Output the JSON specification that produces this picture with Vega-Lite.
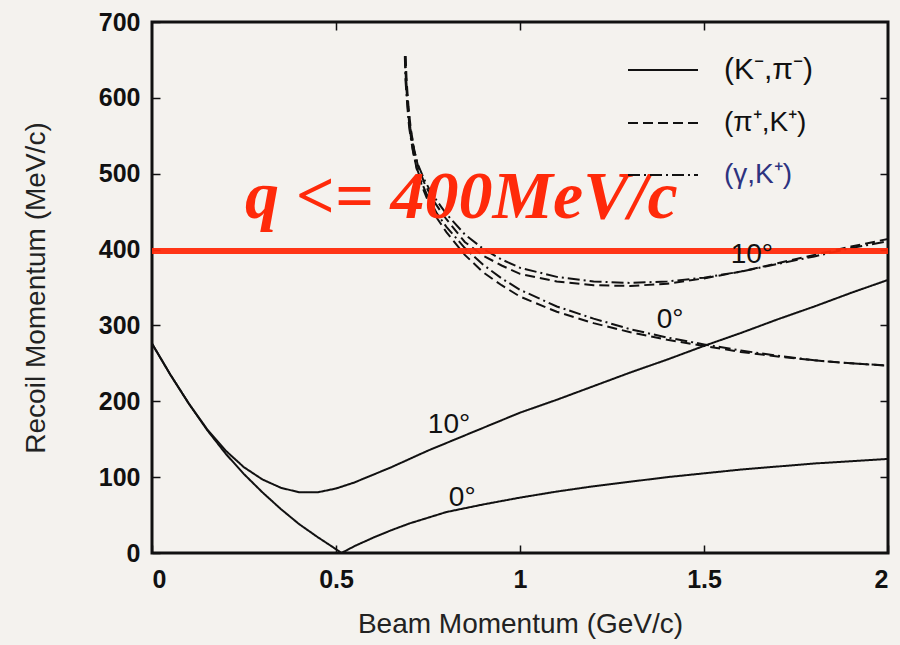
{
  "$schema": "https://vega.github.io/schema/vega-lite/v6.json",
  "autosize": {"type": "none"},
  "width": 736,
  "height": 531,
  "padding": {"left": 152, "top": 22, "right": 12, "bottom": 92},
  "background": "#f4f2ee",
  "config": {
    "view": {"stroke": "#111111", "strokeWidth": 3, "fill": "#f4f2ee"},
    "axis": {"grid": false, "domain": false, "tickColor": "#111111", "tickWidth": 1.5, "labelFont": "Liberation Sans", "labelFontWeight": "bold", "labelFontSize": 25, "labelColor": "#111111", "titleFont": "Liberation Sans", "titleFontWeight": "normal", "titleFontSize": 28, "titleColor": "#222222"}
  },
  "datasets": {
    "curves": [
      {"reaction": "(K⁻,π⁻)", "angle": "0°", "p": 0, "q": 276},
      {"reaction": "(K⁻,π⁻)", "angle": "0°", "p": 0.05, "q": 235},
      {"reaction": "(K⁻,π⁻)", "angle": "0°", "p": 0.1, "q": 197},
      {"reaction": "(K⁻,π⁻)", "angle": "0°", "p": 0.15, "q": 162},
      {"reaction": "(K⁻,π⁻)", "angle": "0°", "p": 0.2, "q": 131},
      {"reaction": "(K⁻,π⁻)", "angle": "0°", "p": 0.25, "q": 104},
      {"reaction": "(K⁻,π⁻)", "angle": "0°", "p": 0.3, "q": 80},
      {"reaction": "(K⁻,π⁻)", "angle": "0°", "p": 0.35, "q": 58},
      {"reaction": "(K⁻,π⁻)", "angle": "0°", "p": 0.4, "q": 38},
      {"reaction": "(K⁻,π⁻)", "angle": "0°", "p": 0.45, "q": 21},
      {"reaction": "(K⁻,π⁻)", "angle": "0°", "p": 0.5, "q": 5},
      {"reaction": "(K⁻,π⁻)", "angle": "0°", "p": 0.515, "q": 0},
      {"reaction": "(K⁻,π⁻)", "angle": "0°", "p": 0.55, "q": 9},
      {"reaction": "(K⁻,π⁻)", "angle": "0°", "p": 0.6, "q": 20},
      {"reaction": "(K⁻,π⁻)", "angle": "0°", "p": 0.65, "q": 30},
      {"reaction": "(K⁻,π⁻)", "angle": "0°", "p": 0.7, "q": 39},
      {"reaction": "(K⁻,π⁻)", "angle": "0°", "p": 0.8, "q": 54},
      {"reaction": "(K⁻,π⁻)", "angle": "0°", "p": 0.9, "q": 64},
      {"reaction": "(K⁻,π⁻)", "angle": "0°", "p": 1.0, "q": 73},
      {"reaction": "(K⁻,π⁻)", "angle": "0°", "p": 1.1, "q": 81},
      {"reaction": "(K⁻,π⁻)", "angle": "0°", "p": 1.2, "q": 88},
      {"reaction": "(K⁻,π⁻)", "angle": "0°", "p": 1.3, "q": 94},
      {"reaction": "(K⁻,π⁻)", "angle": "0°", "p": 1.4, "q": 100},
      {"reaction": "(K⁻,π⁻)", "angle": "0°", "p": 1.5, "q": 105},
      {"reaction": "(K⁻,π⁻)", "angle": "0°", "p": 1.6, "q": 110},
      {"reaction": "(K⁻,π⁻)", "angle": "0°", "p": 1.7, "q": 114},
      {"reaction": "(K⁻,π⁻)", "angle": "0°", "p": 1.8, "q": 118},
      {"reaction": "(K⁻,π⁻)", "angle": "0°", "p": 1.9, "q": 121},
      {"reaction": "(K⁻,π⁻)", "angle": "0°", "p": 2.0, "q": 124},

      {"reaction": "(K⁻,π⁻)", "angle": "10°", "p": 0, "q": 276},
      {"reaction": "(K⁻,π⁻)", "angle": "10°", "p": 0.05, "q": 235},
      {"reaction": "(K⁻,π⁻)", "angle": "10°", "p": 0.1, "q": 197},
      {"reaction": "(K⁻,π⁻)", "angle": "10°", "p": 0.15, "q": 163},
      {"reaction": "(K⁻,π⁻)", "angle": "10°", "p": 0.2, "q": 135},
      {"reaction": "(K⁻,π⁻)", "angle": "10°", "p": 0.25, "q": 113},
      {"reaction": "(K⁻,π⁻)", "angle": "10°", "p": 0.3, "q": 97},
      {"reaction": "(K⁻,π⁻)", "angle": "10°", "p": 0.35, "q": 86},
      {"reaction": "(K⁻,π⁻)", "angle": "10°", "p": 0.4, "q": 80},
      {"reaction": "(K⁻,π⁻)", "angle": "10°", "p": 0.45, "q": 80},
      {"reaction": "(K⁻,π⁻)", "angle": "10°", "p": 0.5, "q": 85},
      {"reaction": "(K⁻,π⁻)", "angle": "10°", "p": 0.55, "q": 93},
      {"reaction": "(K⁻,π⁻)", "angle": "10°", "p": 0.6, "q": 103},
      {"reaction": "(K⁻,π⁻)", "angle": "10°", "p": 0.65, "q": 113},
      {"reaction": "(K⁻,π⁻)", "angle": "10°", "p": 0.7, "q": 124},
      {"reaction": "(K⁻,π⁻)", "angle": "10°", "p": 0.75, "q": 135},
      {"reaction": "(K⁻,π⁻)", "angle": "10°", "p": 0.8, "q": 145},
      {"reaction": "(K⁻,π⁻)", "angle": "10°", "p": 0.9, "q": 165},
      {"reaction": "(K⁻,π⁻)", "angle": "10°", "p": 1.0, "q": 185},
      {"reaction": "(K⁻,π⁻)", "angle": "10°", "p": 1.1, "q": 202},
      {"reaction": "(K⁻,π⁻)", "angle": "10°", "p": 1.2, "q": 220},
      {"reaction": "(K⁻,π⁻)", "angle": "10°", "p": 1.3, "q": 238},
      {"reaction": "(K⁻,π⁻)", "angle": "10°", "p": 1.4, "q": 255},
      {"reaction": "(K⁻,π⁻)", "angle": "10°", "p": 1.5, "q": 273},
      {"reaction": "(K⁻,π⁻)", "angle": "10°", "p": 1.6, "q": 290},
      {"reaction": "(K⁻,π⁻)", "angle": "10°", "p": 1.7, "q": 308},
      {"reaction": "(K⁻,π⁻)", "angle": "10°", "p": 1.8, "q": 325},
      {"reaction": "(K⁻,π⁻)", "angle": "10°", "p": 1.9, "q": 343},
      {"reaction": "(K⁻,π⁻)", "angle": "10°", "p": 2.0, "q": 360},

      {"reaction": "(π⁺,K⁺)", "angle": "0°", "p": 0.688, "q": 655},
      {"reaction": "(π⁺,K⁺)", "angle": "0°", "p": 0.69, "q": 622},
      {"reaction": "(π⁺,K⁺)", "angle": "0°", "p": 0.695, "q": 588},
      {"reaction": "(π⁺,K⁺)", "angle": "0°", "p": 0.7, "q": 560},
      {"reaction": "(π⁺,K⁺)", "angle": "0°", "p": 0.71, "q": 528},
      {"reaction": "(π⁺,K⁺)", "angle": "0°", "p": 0.72, "q": 505},
      {"reaction": "(π⁺,K⁺)", "angle": "0°", "p": 0.735, "q": 482},
      {"reaction": "(π⁺,K⁺)", "angle": "0°", "p": 0.75, "q": 464},
      {"reaction": "(π⁺,K⁺)", "angle": "0°", "p": 0.775, "q": 441},
      {"reaction": "(π⁺,K⁺)", "angle": "0°", "p": 0.8, "q": 423},
      {"reaction": "(π⁺,K⁺)", "angle": "0°", "p": 0.85, "q": 393},
      {"reaction": "(π⁺,K⁺)", "angle": "0°", "p": 0.9, "q": 370},
      {"reaction": "(π⁺,K⁺)", "angle": "0°", "p": 0.95, "q": 353},
      {"reaction": "(π⁺,K⁺)", "angle": "0°", "p": 1.0, "q": 338},
      {"reaction": "(π⁺,K⁺)", "angle": "0°", "p": 1.1, "q": 318},
      {"reaction": "(π⁺,K⁺)", "angle": "0°", "p": 1.2, "q": 303},
      {"reaction": "(π⁺,K⁺)", "angle": "0°", "p": 1.3, "q": 291},
      {"reaction": "(π⁺,K⁺)", "angle": "0°", "p": 1.4, "q": 281},
      {"reaction": "(π⁺,K⁺)", "angle": "0°", "p": 1.5, "q": 273},
      {"reaction": "(π⁺,K⁺)", "angle": "0°", "p": 1.6, "q": 265},
      {"reaction": "(π⁺,K⁺)", "angle": "0°", "p": 1.7, "q": 259},
      {"reaction": "(π⁺,K⁺)", "angle": "0°", "p": 1.8, "q": 254},
      {"reaction": "(π⁺,K⁺)", "angle": "0°", "p": 1.9, "q": 250},
      {"reaction": "(π⁺,K⁺)", "angle": "0°", "p": 2.0, "q": 247},

      {"reaction": "(π⁺,K⁺)", "angle": "10°", "p": 0.689, "q": 655},
      {"reaction": "(π⁺,K⁺)", "angle": "10°", "p": 0.692, "q": 622},
      {"reaction": "(π⁺,K⁺)", "angle": "10°", "p": 0.697, "q": 588},
      {"reaction": "(π⁺,K⁺)", "angle": "10°", "p": 0.703, "q": 560},
      {"reaction": "(π⁺,K⁺)", "angle": "10°", "p": 0.713, "q": 530},
      {"reaction": "(π⁺,K⁺)", "angle": "10°", "p": 0.723, "q": 510},
      {"reaction": "(π⁺,K⁺)", "angle": "10°", "p": 0.74, "q": 488},
      {"reaction": "(π⁺,K⁺)", "angle": "10°", "p": 0.76, "q": 468},
      {"reaction": "(π⁺,K⁺)", "angle": "10°", "p": 0.785, "q": 450},
      {"reaction": "(π⁺,K⁺)", "angle": "10°", "p": 0.8, "q": 440},
      {"reaction": "(π⁺,K⁺)", "angle": "10°", "p": 0.85, "q": 410},
      {"reaction": "(π⁺,K⁺)", "angle": "10°", "p": 0.9, "q": 392},
      {"reaction": "(π⁺,K⁺)", "angle": "10°", "p": 0.95, "q": 379},
      {"reaction": "(π⁺,K⁺)", "angle": "10°", "p": 1.0, "q": 368},
      {"reaction": "(π⁺,K⁺)", "angle": "10°", "p": 1.1, "q": 358},
      {"reaction": "(π⁺,K⁺)", "angle": "10°", "p": 1.2, "q": 353},
      {"reaction": "(π⁺,K⁺)", "angle": "10°", "p": 1.3, "q": 352},
      {"reaction": "(π⁺,K⁺)", "angle": "10°", "p": 1.4, "q": 355},
      {"reaction": "(π⁺,K⁺)", "angle": "10°", "p": 1.5, "q": 362},
      {"reaction": "(π⁺,K⁺)", "angle": "10°", "p": 1.6, "q": 371},
      {"reaction": "(π⁺,K⁺)", "angle": "10°", "p": 1.7, "q": 382},
      {"reaction": "(π⁺,K⁺)", "angle": "10°", "p": 1.8, "q": 393},
      {"reaction": "(π⁺,K⁺)", "angle": "10°", "p": 1.9, "q": 404},
      {"reaction": "(π⁺,K⁺)", "angle": "10°", "p": 2.0, "q": 414},

      {"reaction": "(γ,K⁺)", "angle": "0°", "p": 0.687, "q": 655},
      {"reaction": "(γ,K⁺)", "angle": "0°", "p": 0.689, "q": 622},
      {"reaction": "(γ,K⁺)", "angle": "0°", "p": 0.694, "q": 588},
      {"reaction": "(γ,K⁺)", "angle": "0°", "p": 0.699, "q": 560},
      {"reaction": "(γ,K⁺)", "angle": "0°", "p": 0.709, "q": 530},
      {"reaction": "(γ,K⁺)", "angle": "0°", "p": 0.719, "q": 508},
      {"reaction": "(γ,K⁺)", "angle": "0°", "p": 0.735, "q": 486},
      {"reaction": "(γ,K⁺)", "angle": "0°", "p": 0.75, "q": 469},
      {"reaction": "(γ,K⁺)", "angle": "0°", "p": 0.775, "q": 447},
      {"reaction": "(γ,K⁺)", "angle": "0°", "p": 0.8, "q": 430},
      {"reaction": "(γ,K⁺)", "angle": "0°", "p": 0.85, "q": 402},
      {"reaction": "(γ,K⁺)", "angle": "0°", "p": 0.9, "q": 380},
      {"reaction": "(γ,K⁺)", "angle": "0°", "p": 0.95, "q": 362},
      {"reaction": "(γ,K⁺)", "angle": "0°", "p": 1.0, "q": 347},
      {"reaction": "(γ,K⁺)", "angle": "0°", "p": 1.1, "q": 325},
      {"reaction": "(γ,K⁺)", "angle": "0°", "p": 1.2, "q": 309},
      {"reaction": "(γ,K⁺)", "angle": "0°", "p": 1.3, "q": 295},
      {"reaction": "(γ,K⁺)", "angle": "0°", "p": 1.4, "q": 284},
      {"reaction": "(γ,K⁺)", "angle": "0°", "p": 1.5, "q": 275},
      {"reaction": "(γ,K⁺)", "angle": "0°", "p": 1.6, "q": 267},
      {"reaction": "(γ,K⁺)", "angle": "0°", "p": 1.7, "q": 260},
      {"reaction": "(γ,K⁺)", "angle": "0°", "p": 1.8, "q": 254},
      {"reaction": "(γ,K⁺)", "angle": "0°", "p": 1.9, "q": 250},
      {"reaction": "(γ,K⁺)", "angle": "0°", "p": 2.0, "q": 247},

      {"reaction": "(γ,K⁺)", "angle": "10°", "p": 0.688, "q": 655},
      {"reaction": "(γ,K⁺)", "angle": "10°", "p": 0.691, "q": 622},
      {"reaction": "(γ,K⁺)", "angle": "10°", "p": 0.696, "q": 588},
      {"reaction": "(γ,K⁺)", "angle": "10°", "p": 0.702, "q": 560},
      {"reaction": "(γ,K⁺)", "angle": "10°", "p": 0.712, "q": 532},
      {"reaction": "(γ,K⁺)", "angle": "10°", "p": 0.722, "q": 513},
      {"reaction": "(γ,K⁺)", "angle": "10°", "p": 0.74, "q": 492},
      {"reaction": "(γ,K⁺)", "angle": "10°", "p": 0.76, "q": 474},
      {"reaction": "(γ,K⁺)", "angle": "10°", "p": 0.785, "q": 457},
      {"reaction": "(γ,K⁺)", "angle": "10°", "p": 0.8, "q": 447},
      {"reaction": "(γ,K⁺)", "angle": "10°", "p": 0.85, "q": 420},
      {"reaction": "(γ,K⁺)", "angle": "10°", "p": 0.9, "q": 401},
      {"reaction": "(γ,K⁺)", "angle": "10°", "p": 0.95, "q": 387},
      {"reaction": "(γ,K⁺)", "angle": "10°", "p": 1.0, "q": 376},
      {"reaction": "(γ,K⁺)", "angle": "10°", "p": 1.1, "q": 364},
      {"reaction": "(γ,K⁺)", "angle": "10°", "p": 1.2, "q": 358},
      {"reaction": "(γ,K⁺)", "angle": "10°", "p": 1.3, "q": 356},
      {"reaction": "(γ,K⁺)", "angle": "10°", "p": 1.4, "q": 358},
      {"reaction": "(γ,K⁺)", "angle": "10°", "p": 1.5, "q": 363},
      {"reaction": "(γ,K⁺)", "angle": "10°", "p": 1.6, "q": 371},
      {"reaction": "(γ,K⁺)", "angle": "10°", "p": 1.7, "q": 381},
      {"reaction": "(γ,K⁺)", "angle": "10°", "p": 1.8, "q": 391},
      {"reaction": "(γ,K⁺)", "angle": "10°", "p": 1.9, "q": 402},
      {"reaction": "(γ,K⁺)", "angle": "10°", "p": 2.0, "q": 411}
    ],
    "angleLabels": [
      {"text": "10°", "p": 0.807, "q": 158},
      {"text": "0°", "p": 0.843, "q": 62},
      {"text": "0°", "p": 1.408, "q": 297},
      {"text": "10°", "p": 1.63, "q": 382}
    ],
    "cut": [
      {"label": "q <= 400MeV/c", "p": 0.253, "q": 398, "qText": 441}
    ]
  },
  "resolve": {"axis": {"x": "independent", "y": "independent"}},
  "layer": [
    {
      "data": {"name": "curves"},
      "mark": {"type": "line", "color": "#111111", "strokeWidth": 2, "clip": true},
      "encoding": {
        "x": {"field": "p", "type": "quantitative", "scale": {"domain": [0, 2], "nice": false, "zero": false},
          "axis": {"orient": "bottom", "values": [0, 0.5, 1, 1.5, 2], "format": "~g", "tickSize": -8, "labelPadding": 22, "title": "Beam Momentum (GeV/c)", "titlePadding": 18}},
        "y": {"field": "q", "type": "quantitative", "scale": {"domain": [0, 700], "nice": false},
          "axis": {"orient": "left", "values": [0, 100, 200, 300, 400, 500, 600, 700], "tickSize": -8, "labelPadding": 20, "title": "Recoil Momentum (MeV/c)", "titlePadding": 48}},
        "strokeDash": {"field": "reaction", "type": "nominal",
          "scale": {"domain": ["(K⁻,π⁻)", "(π⁺,K⁺)", "(γ,K⁺)"], "range": [[1, 0], [10, 5], [12, 4, 2, 4]]},
          "legend": {"orient": "none", "legendX": 475, "legendY": 12, "title": null, "symbolType": "stroke", "symbolSize": 4900, "symbolStrokeWidth": 2, "symbolStrokeColor": "#111111", "labelFont": "Liberation Sans", "labelFontSize": 28, "labelOffset": 25, "rowPadding": 2, "labelColor": "#111111",
            "encode": {"labels": {"update": {
              "fill": [{"test": "datum.label === '(γ,K⁺)'", "value": "#2d3380"}, {"value": "#111111"}],
              "fontSize": [{"test": "datum.label === '(K⁻,π⁻)'", "value": 30}, {"value": 28}]
            }}}}},
        "detail": {"field": "angle", "type": "nominal"}
      }
    },
    {
      "data": {"name": "cut"},
      "mark": {"type": "rule", "color": "#ff2a0a", "strokeWidth": 6, "opacity": 0.95},
      "encoding": {
        "y": {"field": "q", "type": "quantitative", "scale": {"domain": [0, 700], "nice": false}, "axis": null}
      }
    },
    {
      "data": {"name": "cut"},
      "mark": {"type": "text", "color": "#ff2a0a", "font": "Liberation Serif", "fontStyle": "italic", "fontWeight": "bold", "fontSize": 68, "align": "left", "baseline": "alphabetic"},
      "encoding": {
        "x": {"field": "p", "type": "quantitative", "scale": {"domain": [0, 2], "nice": false, "zero": false}, "axis": null},
        "y": {"field": "qText", "type": "quantitative", "scale": {"domain": [0, 700], "nice": false}, "axis": null},
        "text": {"field": "label"}
      }
    },
    {
      "data": {"name": "angleLabels"},
      "mark": {"type": "text", "color": "#111111", "font": "Liberation Sans", "fontSize": 28, "align": "center", "baseline": "alphabetic"},
      "encoding": {
        "x": {"field": "p", "type": "quantitative", "scale": {"domain": [0, 2], "nice": false, "zero": false},
          "axis": {"orient": "top", "values": [0.5, 1, 1.5], "labels": false, "tickSize": -8, "title": null}},
        "y": {"field": "q", "type": "quantitative", "scale": {"domain": [0, 700], "nice": false},
          "axis": {"orient": "right", "values": [100, 200, 300, 400, 500, 600], "labels": false, "tickSize": -8, "title": null}},
        "text": {"field": "text"}
      }
    }
  ]
}
